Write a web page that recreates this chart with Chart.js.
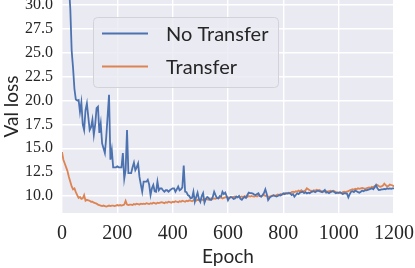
<!DOCTYPE html>
<html>
<head>
<meta charset="utf-8">
<script src="https://cdn.jsdelivr.net/npm/chart.js@4.4.1/dist/chart.umd.min.js"></script>
<style>
  html, body { margin: 0; padding: 0; background: #ffffff; }
  #wrap { width: 415px; height: 268px; }
</style>
</head>
<body>
<div id="wrap"><canvas id="lossChart" width="415" height="268"></canvas></div>
<script>
// validation loss, one reading every 5 epochs (0 .. 1200)
const EPOCH_START = 0;
const EPOCH_STEP = 5;

const noTransferLoss = [
  60, 52, 46, 40, 35.5, 32, 29.6, 25.2, 23.4, 21.2,
  20.1, 20.0, 20.05, 18.8, 19.8, 17.5, 16.9, 19.0, 19.7, 18.3,
  16.9, 17.2, 18.0, 16.4, 17.5, 19.2, 19.35, 16.6, 17.6, 15.5,
  15.0, 14.5, 16.2, 18.4, 20.6, 13.8, 14.8, 13.0, 13.0, 13.0,
  13.1, 13.0, 13.0, 13.0, 14.5, 11.8, 12.7, 16.9, 12.4, 12.4,
  12.4, 13.0, 13.5, 12.7, 13.0, 13.4, 12.0, 11.2, 10.45, 11.5,
  11.5, 11.5, 11.7, 11.2, 10.1, 10.8, 11.15, 10.5, 10.45, 11.5,
  10.6, 10.8, 10.8, 10.6, 10.45, 10.6, 10.6, 10.45, 10.6, 10.7,
  10.8, 10.8, 10.45, 10.7, 11.0, 10.6, 10.7, 10.9, 13.2, 10.45,
  10.4, 10.1, 10.0, 9.75, 9.8, 10.45, 9.4, 9.9, 10.35, 9.7,
  9.4, 10.0, 10.3, 9.3, 9.7, 9.9, 9.8, 9.6, 9.6, 9.9,
  10.45, 10.1, 9.8, 9.75, 10.0, 9.95, 10.45, 10.2, 10.35, 10.0,
  9.55, 9.8, 9.9, 9.85, 9.7, 9.75, 9.95, 9.85, 10.0, 9.7,
  9.6, 9.8, 9.9, 9.8, 10.1, 10.35, 10.3, 10.3, 10.25, 10.15,
  10.1, 10.2, 10.28, 10.0, 9.93, 10.1, 10.3, 10.7, 10.2, 9.58,
  9.8, 9.93, 10.0, 10.05, 10.0, 9.95, 10.0, 10.1, 10.05, 10.15,
  10.28, 10.2, 10.3, 10.25, 10.3, 10.28, 10.1, 10.2, 9.93, 10.1,
  10.28, 10.2, 10.35, 10.4, 10.45, 10.3, 10.4, 10.28, 10.35, 10.3,
  10.4, 10.45, 10.5, 10.4, 10.5, 10.56, 10.5, 10.45, 10.4, 10.5,
  10.63, 10.35, 10.4, 10.3, 10.4, 10.45, 10.5, 10.4, 10.3, 10.35,
  10.35, 10.4, 10.3, 10.2, 10.3, 10.28, 10.25, 9.86, 10.2, 10.45,
  10.5, 10.4, 10.56, 10.5, 10.4, 10.35, 10.45, 10.56, 10.5, 10.6,
  10.6, 10.65, 10.7, 10.75, 10.8, 10.7, 10.9, 11.15, 10.8, 10.63,
  10.65, 10.7, 10.7, 10.75, 10.7, 10.8, 10.75, 10.8, 10.75, 10.8,
  10.8,
];

const transferLoss = [
  14.6, 13.8, 13.4, 13.0, 12.6, 12.0, 11.5, 11.0, 10.7, 10.8,
  10.4, 10.1, 9.8, 9.9, 9.7, 9.75, 10.1, 9.5, 9.6, 9.55,
  9.5, 9.4, 9.4, 9.3, 9.25, 9.2, 9.1, 9.05, 9.0, 8.95,
  9.0, 8.95, 8.9, 8.95, 9.0, 8.95, 9.0, 9.0, 8.95, 9.0,
  9.05, 9.0, 9.05, 9.0, 9.05, 9.1, 9.5, 9.1, 9.05, 9.1,
  9.1, 9.05, 9.15, 9.1, 9.2, 9.15, 9.1, 9.2, 9.15, 9.2,
  9.15, 9.25, 9.2, 9.15, 9.25, 9.2, 9.3, 9.25, 9.2, 9.3,
  9.25, 9.3, 9.35, 9.3, 9.25, 9.35, 9.3, 9.4, 9.35, 9.3,
  9.4, 9.35, 9.45, 9.4, 9.35, 9.45, 9.4, 9.5, 9.45, 9.4,
  9.5, 9.45, 9.55, 9.5, 9.45, 9.55, 9.6, 9.5, 9.6, 9.55,
  9.6, 9.65, 9.55, 9.6, 9.7, 9.65, 9.6, 9.7, 9.75, 9.7,
  9.75, 9.7, 9.8, 9.75, 9.8, 9.85, 9.75, 9.8, 9.85, 9.9,
  9.85, 9.8, 9.9, 9.85, 9.9, 9.95, 9.85, 9.9, 9.95, 9.9,
  9.95, 9.9, 10.0, 9.95, 9.9, 10.0, 9.95, 10.0, 9.95, 9.93,
  10.0, 9.95, 10.05, 10.0, 9.95, 10.05, 10.1, 10.0, 10.05, 9.95,
  9.93, 10.0, 10.05, 10.1, 10.0, 10.1, 10.15, 10.1, 10.2, 10.15,
  10.2, 10.28, 10.25, 10.3, 10.35, 10.3, 10.4, 10.45, 10.4, 10.5,
  10.45, 10.56, 10.5, 10.6, 10.45, 10.5, 10.6, 10.8, 10.7, 10.6,
  10.56, 10.5, 10.6, 10.56, 10.65, 10.6, 10.63, 10.55, 10.5, 10.45,
  10.45, 10.5, 10.45, 10.5, 10.56, 10.5, 10.56, 10.5, 10.4, 10.35,
  10.28, 10.35, 10.3, 10.4, 10.45, 10.4, 10.45, 10.5, 10.6, 10.65,
  10.7, 10.65, 10.75, 10.7, 10.8, 10.75, 10.8, 10.85, 10.8, 10.75,
  10.8, 10.85, 10.9, 10.85, 10.97, 10.9, 11.05, 11.1, 11.15, 11.05,
  10.97, 11.0, 11.1, 11.3, 11.15, 11.0, 11.05, 11.2, 11.15, 11.1,
  11.0,
];

const seriesLabels = ["No Transfer", "Transfer"];
const xTickValues = [0, 200, 400, 600, 800, 1000, 1200];
const yTickValues = [10, 12.5, 15, 17.5, 20, 22.5, 25, 27.5, 30];

const BLUE = "#4c72b0";
const ORANGE = "#dd8452";
const TEXT_COLOR = "#262626";
const PLOT_BG = "#eaeaf2";
const SERIF = "'Liberation Serif', 'DejaVu Serif', serif";
const SANS = "Lato, 'Open Sans', sans-serif";

function toPoints(values) {
  return values.map((y, i) => ({ x: EPOCH_START + i * EPOCH_STEP, y }));
}

const plotBackground = {
  id: "plotBackground",
  beforeDraw(chart) {
    const { ctx, chartArea } = chart;
    ctx.save();
    ctx.fillStyle = PLOT_BG;
    ctx.fillRect(chartArea.left, chartArea.top, chartArea.width, chartArea.height);
    ctx.restore();
  },
};

// matplotlib style legend box sitting inside the plot
const insideLegend = {
  id: "insideLegend",
  afterDatasetsDraw(chart) {
    const { ctx } = chart;
    const box = { x: 93.5, y: 17.5, w: 185, h: 70, r: 4 };

    ctx.save();
    ctx.beginPath();
    ctx.roundRect(box.x, box.y, box.w, box.h, box.r);
    ctx.fillStyle = "rgba(234, 234, 242, 0.8)";
    ctx.fill();
    ctx.strokeStyle = "#d2d2d8";
    ctx.lineWidth = 1;
    ctx.stroke();

    ctx.font = `20px ${SANS}`;
    ctx.textBaseline = "middle";
    ctx.fillStyle = TEXT_COLOR;

    chart.data.datasets.forEach((dataset, i) => {
      const rowY = 33.5 + i * 33;
      ctx.beginPath();
      ctx.moveTo(102, rowY);
      ctx.lineTo(148, rowY);
      ctx.strokeStyle = dataset.borderColor;
      ctx.lineWidth = 1.8;
      ctx.stroke();
      ctx.fillText(dataset.label, 166, rowY + 1);
    });
    ctx.restore();
  },
};

const canvas = document.getElementById("lossChart");

new Chart(canvas, {
  type: "line",
  data: {
    datasets: [
      {
        label: seriesLabels[0],
        data: toPoints(noTransferLoss),
        borderColor: BLUE,
        borderWidth: 1.8,
        pointRadius: 0,
        tension: 0,
      },
      {
        label: seriesLabels[1],
        data: toPoints(transferLoss),
        borderColor: ORANGE,
        borderWidth: 1.8,
        pointRadius: 0,
        tension: 0,
      },
    ],
  },
  options: {
    responsive: false,
    animation: false,
    devicePixelRatio: 1,
    parsing: false,
    layout: { padding: { top: 0, right: 21, bottom: 0, left: 0 } },
    plugins: {
      legend: { display: false },
      tooltip: { enabled: false },
    },
    scales: {
      x: {
        type: "linear",
        min: 0,
        max: 1200,
        afterBuildTicks(scale) {
          scale.ticks = xTickValues.map((value) => ({ value }));
        },
        afterFit(scale) {
          scale.height = 55;
          scale.paddingLeft = 0;
          scale.paddingRight = 0;
        },
        border: { display: false },
        grid: { color: "#ffffff", lineWidth: 1.4, drawTicks: false },
        ticks: {
          font: { family: SERIF, size: 20 },
          color: TEXT_COLOR,
          padding: 9,
          maxRotation: 0,
          autoSkip: false,
          callback: (value) => String(value),
        },
        title: {
          display: true,
          text: "Epoch",
          font: { family: SANS, size: 19 },
          color: TEXT_COLOR,
          padding: { top: 0, bottom: 0 },
        },
      },
      y: {
        type: "linear",
        min: 8.22,
        max: 30.52,
        afterBuildTicks(scale) {
          scale.ticks = yTickValues.map((value) => ({ value }));
        },
        afterFit(scale) {
          scale.width = 62;
          scale.paddingTop = 0;
          scale.paddingBottom = 0;
        },
        border: { display: false },
        grid: { color: "#ffffff", lineWidth: 1.4, drawTicks: false },
        ticks: {
          font: { family: SERIF, size: 16 },
          color: TEXT_COLOR,
          padding: 9,
          autoSkip: false,
          callback: (value) => value.toFixed(1),
        },
        title: {
          display: true,
          text: "Val loss",
          font: { family: SANS, size: 19 },
          color: TEXT_COLOR,
          padding: { top: 0, bottom: 0 },
        },
      },
    },
  },
  plugins: [plotBackground, insideLegend],
});
</script>
</body>
</html>
